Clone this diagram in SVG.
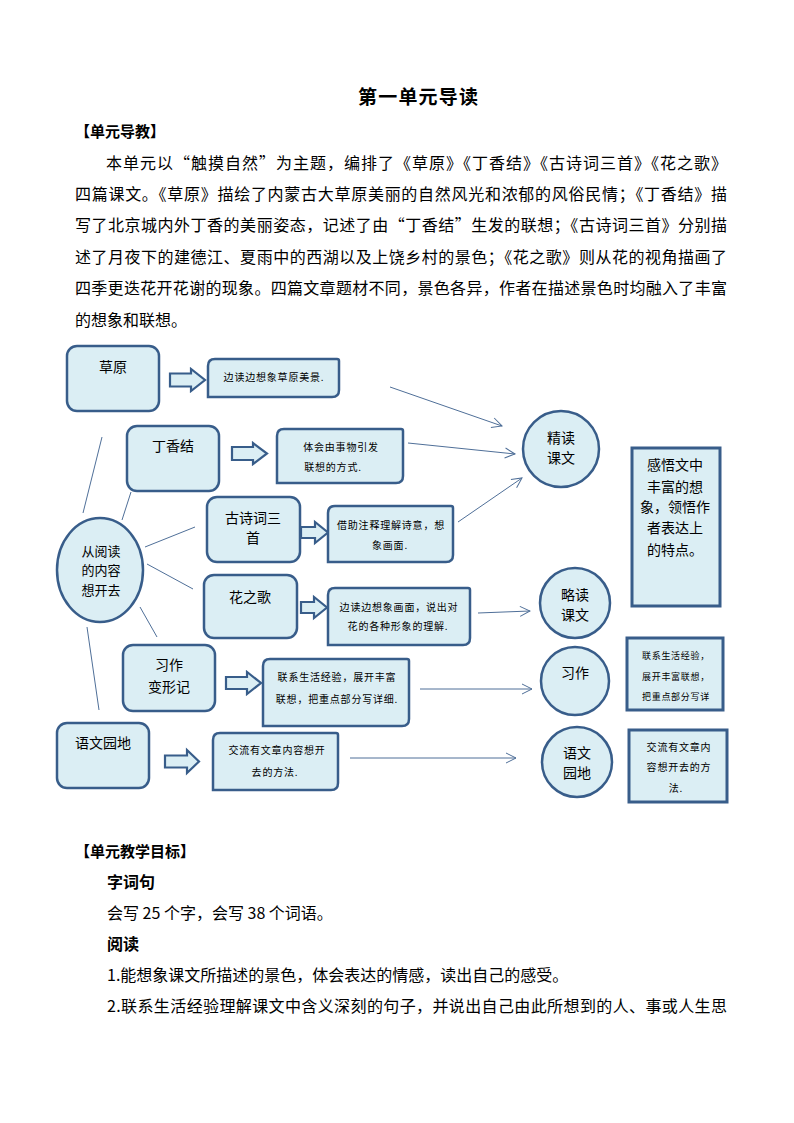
<svg xmlns="http://www.w3.org/2000/svg" width="794" height="1123" viewBox="0 0 794 1123">
<defs>
<style>
text{font-family:"Noto Sans CJK SC","Noto Sans",sans-serif;fill:#000}
.body{font-size:16px}
.h{font-size:15px;font-weight:bold}
.box{fill:#DBEEF4;stroke:#385D8A;stroke-width:2.5}
.rbox{fill:#DBEEF4;stroke:#385D8A;stroke-width:3}
.blk{fill:#DBEEF4;stroke:#385D8A;stroke-width:2.2;stroke-linejoin:miter}
.t14{font-size:14px;text-anchor:middle}
.t13{font-size:13px;text-anchor:middle}
.t10{font-size:10px;text-anchor:middle;letter-spacing:0.8px}
.t9{font-size:9px;letter-spacing:0.7px}
.ln{stroke:#4F6F98;stroke-width:1;fill:none}
.la{stroke:#4F6F98;stroke-width:1;fill:none;marker-end:url(#oa)}
</style>
<marker id="oa" viewBox="0 0 12 12" refX="11" refY="6" markerWidth="12" markerHeight="12" markerUnits="userSpaceOnUse" orient="auto">
<path d="M1,1 L11,6 L1,11" fill="none" stroke="#4F6F98" stroke-width="1"/>
</marker>
</defs>
<rect width="794" height="1123" fill="#fff"/>

<g id="text-top">
<text x="418" y="104" text-anchor="middle" font-size="19" font-weight="bold" textLength="120" lengthAdjust="spacing">第一单元导读</text>
<text x="75" y="137" class="h">【单元导教】</text>
<text x="106" y="169" class="body" textLength="621" lengthAdjust="spacing">本单元以“触摸自然”为主题，编排了《草原》《丁香结》《古诗词三首》《花之歌》</text>
<text x="75" y="200" class="body" textLength="652" lengthAdjust="spacing">四篇课文。《草原》描绘了内蒙古大草原美丽的自然风光和浓郁的风俗民情；《丁香结》描</text>
<text x="75" y="231" class="body" textLength="652" lengthAdjust="spacing">写了北京城内外丁香的美丽姿态，记述了由“丁香结”生发的联想；《古诗词三首》分别描</text>
<text x="75" y="263" class="body" textLength="652" lengthAdjust="spacing">述了月夜下的建德江、夏雨中的西湖以及上饶乡村的景色；《花之歌》则从花的视角描画了</text>
<text x="75" y="294" class="body" textLength="652" lengthAdjust="spacing">四季更迭花开花谢的现象。四篇文章题材不同，景色各异，作者在描述景色时均融入了丰富</text>
<text x="75" y="326" class="body">的想象和联想。</text>
</g>

<g id="connectors">
<line class="ln" x1="83" y1="513" x2="102" y2="437"/>
<line class="ln" x1="122" y1="520" x2="131" y2="492"/>
<line class="ln" x1="145" y1="547" x2="195" y2="527"/>
<line class="ln" x1="147" y1="564" x2="193" y2="589"/>
<line class="ln" x1="140" y1="607" x2="157" y2="637"/>
<line class="ln" x1="87" y1="627" x2="99" y2="710"/>
<line class="la" x1="390" y1="387" x2="502" y2="426"/>
<line class="la" x1="408" y1="443" x2="515" y2="454"/>
<line class="la" x1="458" y1="522" x2="522" y2="478"/>
<line class="la" x1="478" y1="613" x2="530" y2="611"/>
<line class="la" x1="420" y1="689" x2="532" y2="689"/>
<line class="la" x1="350" y1="758" x2="516" y2="758"/>
<path class="blk" d="M170,373.5 H191 V369 L205,380 L191,391 V386.5 H170 Z"/>
<path class="blk" d="M232,447 H253 V443 L267,453.5 L253,464 V460 H232 Z"/>
<path class="blk" d="M301,527 H315 V522 L328,532.5 L315,543 V538 H301 Z"/>
<path class="blk" d="M301,602 H314 V597 L327,607.5 L314,618 V613 H301 Z"/>
<path class="blk" d="M226,677 H247 V672 L261,683 L247,694 V689 H226 Z"/>
<path class="blk" d="M165,755.5 H187 V750 L199,761.5 L187,773 V767.5 H165 Z"/>
</g>

<g id="n-caoyuan">
<rect class="box" x="67" y="346" width="92" height="65" rx="10"/>
<text class="t14" x="113" y="372">草原</text>
</g>
<g id="n-dingxiangjie">
<rect class="box" x="127" y="426" width="92" height="65" rx="10"/>
<text class="t14" x="173" y="451">丁香结</text>
</g>
<g id="n-gushici">
<rect class="box" x="207" y="497" width="93" height="65" rx="10"/>
<text class="t14" x="253" y="523">古诗词三</text>
<text class="t14" x="253" y="543">首</text>
</g>
<g id="n-huazhige">
<rect class="box" x="204" y="575" width="93" height="63" rx="10"/>
<text class="t14" x="250" y="602">花之歌</text>
</g>
<g id="n-xizuo">
<rect class="box" x="123" y="645" width="92" height="66" rx="10"/>
<text class="t14" x="169" y="670">习作</text>
<text class="t14" x="169" y="692">变形记</text>
</g>
<g id="n-yuwenyuandi">
<rect class="box" x="57" y="723" width="92" height="65" rx="10"/>
<text class="t14" x="103" y="748">语文园地</text>
</g>

<g id="n-center">
<ellipse class="box" cx="100" cy="570" rx="43" ry="52"/>
<text class="t13" x="101" y="556">从阅读</text>
<text class="t13" x="101" y="575">的内容</text>
<text class="t13" x="101" y="595">想开去</text>
</g>

<g id="t-1">
<path class="box" d="M215,359 H337 Q339,359 339,361 V390 Q339,397 332,397 H208 V366 Q208,359 215,359 Z"/>
<text class="t10" x="274" y="381">边读边想象草原美景.</text>
</g>
<g id="t-2">
<path class="box" d="M284,429 H401 Q403,429 403,431 V476 Q403,483 396,483 H277 V436 Q277,429 284,429 Z"/>
<text class="t10" x="341" y="451">体会由事物引发</text>
<text class="t10" x="333" y="471">联想的方式.</text>
</g>
<g id="t-3">
<path class="box" d="M335,506 H451 Q453,506 453,508 V555 Q453,562 446,562 H328 V513 Q328,506 335,506 Z"/>
<text class="t10" x="391" y="529">借助注释理解诗意，想</text>
<text class="t10" x="390" y="549">象画面.</text>
</g>
<g id="t-4">
<path class="box" d="M335,588 H468 Q470,588 470,590 V638 Q470,645 463,645 H328 V595 Q328,588 335,588 Z"/>
<text class="t10" x="399" y="611">边读边想象画面，说出对</text>
<text class="t10" x="398" y="630">花的各种形象的理解.</text>
</g>
<g id="t-5">
<path class="box" d="M270,659 H407 Q409,659 409,661 V719 Q409,726 402,726 H263 V666 Q263,659 270,659 Z"/>
<text class="t10" x="337" y="681">联系生活经验，展开丰富</text>
<text class="t10" x="337" y="703">联想，把重点部分写详细.</text>
</g>
<g id="t-6">
<path class="box" d="M220,733 H336 Q338,733 338,735 V783 Q338,790 331,790 H213 V740 Q213,733 220,733 Z"/>
<text class="t10" x="277" y="754">交流有文章内容想开</text>
<text class="t10" x="275" y="776">去的方法.</text>
</g>

<g id="c-jingdu">
<circle class="box" cx="561" cy="449" r="38"/>
<text class="t14" x="561" y="443">精读</text>
<text class="t14" x="561" y="463">课文</text>
</g>
<g id="c-luedu">
<circle class="box" cx="575" cy="603" r="35"/>
<text class="t14" x="575" y="600">略读</text>
<text class="t14" x="575" y="620">课文</text>
</g>
<g id="c-xizuo">
<circle class="box" cx="575" cy="681" r="34"/>
<text class="t14" x="575" y="678">习作</text>
</g>
<g id="c-yuwenyuandi">
<circle class="box" cx="577" cy="762" r="35"/>
<text class="t14" x="577" y="758">语文</text>
<text class="t14" x="577" y="778">园地</text>
</g>

<g id="r-ganwu">
<rect class="rbox" x="632" y="448" width="88" height="158"/>
<text class="t14" x="675" y="470">感悟文中</text>
<text class="t14" x="675" y="492">丰富的想</text>
<text class="t14" x="675" y="512">象，领悟作</text>
<text class="t14" x="675" y="533">者表达上</text>
<text class="t14" x="675" y="555">的特点。</text>
</g>
<g id="r-lianxi">
<rect class="rbox" x="627" y="638" width="96" height="72"/>
<text class="t9" x="642" y="659">联系生活经验，</text>
<text class="t9" x="642" y="680">展开丰富联想，</text>
<text class="t9" x="642" y="700">把重点部分写详</text>
</g>
<g id="r-jiaoliu">
<rect class="rbox" x="629" y="730" width="98" height="72"/>
<text class="t10" x="679" y="751">交流有文章内</text>
<text class="t10" x="679" y="771">容想开去的方</text>
<text class="t10" x="676" y="792">法.</text>
</g>

<g id="text-bottom">
<text x="75" y="857" class="h">【单元教学目标】</text>
<text x="107" y="888" class="body" font-weight="bold">字词句</text>
<text x="107" y="919" class="body">会写 25 个字，会写 38 个词语。</text>
<text x="107" y="950" class="body" font-weight="bold">阅读</text>
<text x="107" y="981" class="body">1.能想象课文所描述的景色，体会表达的情感，读出自己的感受。</text>
<text x="107" y="1012" class="body" textLength="620" lengthAdjust="spacing">2.联系生活经验理解课文中含义深刻的句子，并说出自己由此所想到的人、事或人生思</text>
</g>
</svg>
